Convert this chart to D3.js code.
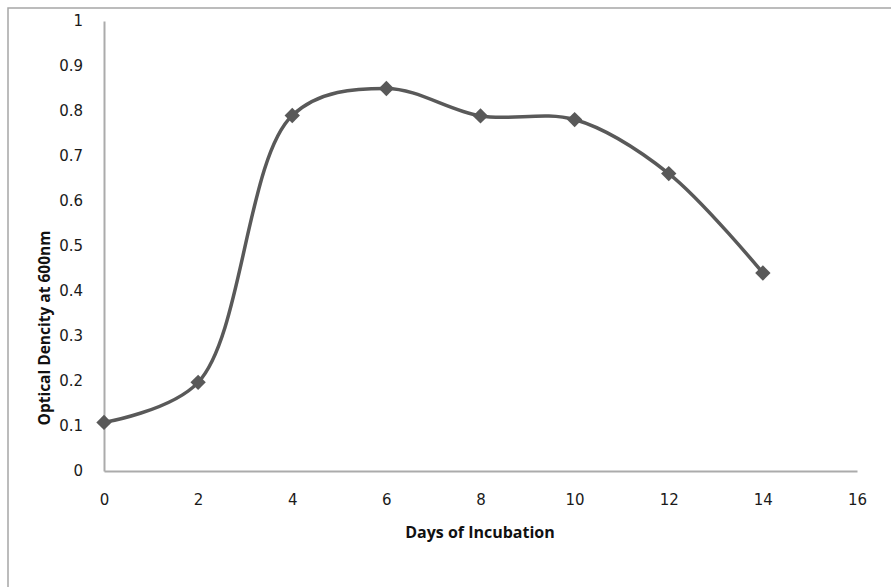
<!DOCTYPE html>
<html><head><meta charset="utf-8">
<script src="https://cdn.jsdelivr.net/npm/d3@7"></script>
<style>html,body{margin:0;padding:0;background:#fff;}svg{display:block;}</style>
</head><body>
<script>
const days = [0, 2, 4, 6, 8, 10, 12, 14];
const density = [0.108, 0.197, 0.79, 0.85, 0.789, 0.781, 0.661, 0.44];
const xTicks = [0, 2, 4, 6, 8, 10, 12, 14, 16];
const yTicks = [0, 0.1, 0.2, 0.3, 0.4, 0.5, 0.6, 0.7, 0.8, 0.9, 1];
const xTitle = "Days of Incubation";
const yTitle = "Optical Dencity at 600nm";

const W = 891, H = 587;
const svg = d3.select("body").append("svg").attr("width", W).attr("height", H);

// outer chart border
svg.append("rect").attr("x", 8).attr("y", 8).attr("width", 900).attr("height", 600)
  .attr("fill", "none").attr("stroke", "#a6a6a6").attr("stroke-width", 1.5);

const x = d3.scaleLinear().domain([0, 16]).range([104, 857]);
const y = d3.scaleLinear().domain([0, 1]).range([471, 21]);

const tickFont = "DejaVu Sans, Verdana, sans-serif";

const xAxis = svg.append("g").attr("transform", `translate(0,${y(0)})`)
  .call(d3.axisBottom(x).tickValues(xTicks).tickSize(0).tickPadding(23).tickFormat(d3.format("d")));
xAxis.select(".domain").attr("stroke", "#ababab").attr("stroke-width", 2);
xAxis.selectAll("text").attr("font-family", tickFont).attr("font-size", 15).attr("fill", "#1a1a1a");

const yAxis = svg.append("g").attr("transform", `translate(${x(0)},0)`)
  .call(d3.axisLeft(y).tickValues(yTicks).tickSize(0).tickPadding(21).tickFormat(d => d === 0 || d === 1 ? String(d) : d3.format(".1f")(d)));
yAxis.select(".domain").attr("stroke", "#ababab").attr("stroke-width", 2);
yAxis.selectAll("text").attr("font-family", tickFont).attr("font-size", 15).attr("fill", "#1a1a1a");

const data = days.map((d, i) => ({d, v: density[i]}));
const line = d3.line().x(p => x(p.d)).y(p => y(p.v)).curve(d3.curveCatmullRom.alpha(0.5));
svg.append("path").datum(data).attr("d", line).attr("fill", "none")
  .attr("stroke", "#595959").attr("stroke-width", 3.5).attr("stroke-linejoin", "round");

svg.selectAll("path.mk").data(data).enter().append("path").attr("class", "mk")
  .attr("d", d3.symbol().type(d3.symbolDiamond2).size(150))
  .attr("transform", p => `translate(${x(p.d)},${y(p.v)})`)
  .attr("fill", "#595959");

const titleFont = "'Open Sans', 'Liberation Sans', sans-serif";
svg.append("text").attr("x", 480).attr("y", 538).attr("text-anchor", "middle")
  .attr("font-family", titleFont).attr("font-weight", "bold").attr("font-size", 16)
  .attr("fill", "#111").text(xTitle);
svg.append("text").attr("transform", "translate(50,328) rotate(-90)").attr("text-anchor", "middle")
  .attr("font-family", titleFont).attr("font-weight", "bold").attr("font-size", 15.5)
  .attr("fill", "#111").text(yTitle);
</script>
</body></html>
